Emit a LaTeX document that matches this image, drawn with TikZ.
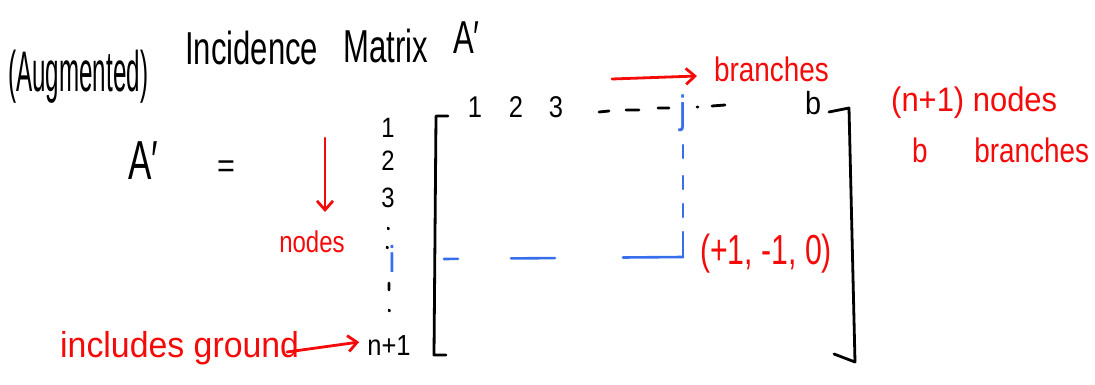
\documentclass[tikz,border=0pt]{standalone}
\usepackage{fontspec}
\setmainfont{Liberation Sans}
\usetikzlibrary{arrows.meta}
\definecolor{pred}{RGB}{245,10,10}
\definecolor{pblue}{RGB}{55,110,235}
\newcommand{\hw}[3]{\scalebox{#1}[1]{\fontsize{#2}{#2}\selectfont #3}}
\newcommand{\hwt}[4]{\scalebox{#1}[#2]{\fontsize{#3}{#3}\selectfont #4}}
\begin{document}
\begin{tikzpicture}[x=1pt,y=-1pt,line cap=round,line join=round,
  ink/.style={line width=2.8pt},
  redink/.style={line width=2.8pt,draw=pred},
  blueink/.style={line width=2.6pt,draw=pblue},
  lbl/.style={inner sep=0pt,anchor=base},
  lblw/.style={inner sep=0pt,anchor=base west},
  barb/.style={-{Straight Barb[length=9pt,width=16pt,line width=2.8pt]}}]
\useasboundingbox (0,0) rectangle (1095,385);

% title
\node[lblw] (aug) at (8,92) {\hwt{0.55}{1.3}{44}{(Augmented)}};
\node[lblw] (inc) at (185,65) {\hwt{0.74}{1.1}{42}{Incidence}};
\node[lblw] (mat) at (343,63) {\hwt{0.74}{1.1}{42}{Matrix}};
\node[lblw] (atitle) at (453,54) {\hwt{0.74}{1.1}{42}{A′}};

% A' =
\node[lblw] (alhs) at (128,179) {\hwt{0.7}{1.1}{50}{A′}};
\node[lbl] (eq) at (226,178) {\hw{0.9}{34}{=}};

% column labels
\node[lbl] (c1) at (475,118) {\hw{0.85}{30}{1}};
\node[lbl] (c2) at (516,118) {\hw{0.85}{30}{2}};
\node[lbl] (c3) at (556,118) {\hw{0.85}{30}{3}};
\node[lbl,text=pblue] (cj) at (683,124) {\hwt{0.9}{1.1}{36}{j}};
\node[lbl] (cb) at (813,115) {\hw{0.9}{32}{b}};
\draw[ink] (599,112) -- (609,111) (626,110) -- (639,110) (658,108) -- (669,108);
\draw[ink] (697,107) -- (698,107) (712,106) -- (725,105);

% row labels
\node[lbl] (r1) at (388,138) {\hw{0.85}{28}{1}};
\node[lbl] (r2) at (388,171) {\hw{0.85}{28}{2}};
\node[lbl] (r3) at (388,207) {\hw{0.85}{28}{3}};
\node[lbl,text=pblue] (ri) at (392,272) {\hwt{0.9}{1.1}{34}{i}};
\node[lbl] (rn) at (389,355) {\hw{0.88}{29}{n+1}};
\draw[ink] (388,228) -- (388.5,229) (387,247) -- (387.5,248) (389,283) -- (389,290) (389,310) -- (389.5,311);

% brackets
\coordinate (lb1) at (448,116);
\coordinate (lb2) at (436,116);
\coordinate (lb3) at (434,355);
\coordinate (lb4) at (446,355);
\draw[ink] (lb1) -- (lb2) -- (lb3) -- (lb4);
\coordinate (rb1) at (829,112);
\coordinate (rb2) at (849,108);
\coordinate (rb3) at (855,362);
\coordinate (rb4) at (834,354);
\draw[ink] (rb1) -- (rb2) -- (rb3) -- (rb4);

% blue guide lines
\coordinate (corner) at (683,257);
\coordinate (hend) at (443,259);
\coordinate (vtop) at (683,145);
\draw[blueink,dash pattern=on 25pt off 15pt on 13pt off 15pt on 13pt off 18pt on 13pt off 40pt] (corner) -- (vtop);
\draw[blueink,dash pattern=on 60pt off 68pt on 44pt off 53pt on 14pt off 40pt] (corner) -- (hend);

% red annotations
\node[lblw,text=pred] (branches) at (714,82) {\hw{0.82}{34}{branches}};
\coordinate (ba) at (612,79);
\coordinate (bt) at (697,76);
\draw[redink,barb] (ba) -- (bt);

\node[lbl,text=pred] (nodesl) at (312,252) {\hw{0.8}{30}{nodes}};
\coordinate (na) at (325,138);
\coordinate (nt) at (325,212);
\draw[redink,barb] (na) -- (nt);

\node[lblw,text=pred] (ground) at (60,357) {\hw{0.94}{36}{includes ground}};
\coordinate (ga) at (287,352);
\draw[redink,barb] (ga) -- ([xshift=-8pt,yshift=3pt]rn.west);

\node[lbl,text=pred] (val) at (766,264) {\hw{0.72}{42}{(+1, -1, 0)}};

\node[lblw,text=pred] (np1) at (891,112) {\hw{0.91}{34}{(n+1) nodes}};
\node[lblw,text=pred] (bb) at (912,162) {\hw{0.82}{34}{b\hspace{57pt}branches}};
\end{tikzpicture}
\end{document}
